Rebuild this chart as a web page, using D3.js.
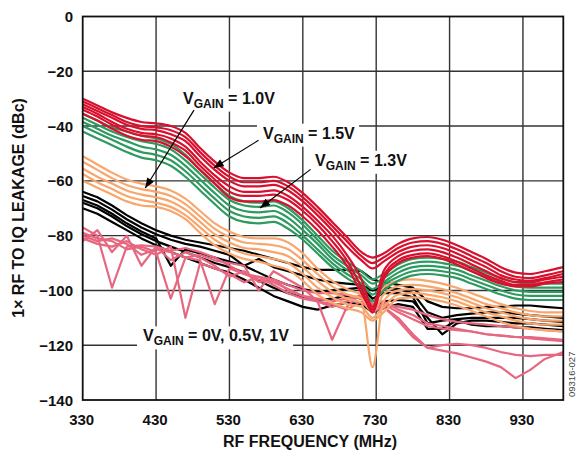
<!DOCTYPE html>
<html>
<head>
<meta charset="utf-8">
<script src="https://cdnjs.cloudflare.com/ajax/libs/d3/7.8.5/d3.min.js"></script>
<style>
  body { margin: 0; background: #fff; }
  svg text { font-family: Arial, "Liberation Sans", sans-serif; font-weight: bold; fill: #111; }
</style>
</head>
<body>
<script>
// RF frequency (MHz) sample points, shared by every trace
var freq = [330,350,370,390,410,430,450,470,490,510,530,550,570,590,610,630,650,670,690,710,725,740,760,780,800,820,840,860,880,900,920,940,960,985];

// VGAIN = 1.5V (red)
var vgain15 = [
  [-30,-32.5,-35,-37,-38.5,-39,-40,-42.5,-48,-53,-57,-59,-59,-58.5,-60.5,-64.5,-69.5,-75,-80.5,-86,-88,-86.5,-83,-81,-80.5,-81.5,-83.5,-86,-88.5,-91.5,-93.5,-94,-93,-91.5],
  [-31,-33.5,-36,-38.5,-40,-40.5,-41.5,-44,-49.5,-54.5,-58.5,-60.5,-60.5,-60,-62,-66,-71,-76.5,-82,-87.5,-90,-88,-84.5,-82.5,-82,-83,-85,-87.5,-90,-93,-95,-95.5,-94.5,-93],
  [-32,-34.5,-37,-39.5,-41,-41.5,-43,-45.5,-51,-56,-60,-62,-62,-61.5,-63.5,-67.5,-72.5,-78,-84,-89,-92,-89.5,-86,-84,-83.5,-84.5,-86.5,-89,-91.5,-94.5,-96,-96.5,-95.5,-94],
  [-33,-35.5,-38.5,-41,-42.5,-43,-44.5,-47.5,-53,-58,-62,-64,-64,-63.5,-65.5,-69.5,-74.5,-80,-87,-96,-106,-93,-87.5,-85.5,-85,-86,-88,-90.5,-93,-95.5,-97,-97,-96,-95],
  [-34,-36.5,-39.5,-42,-43.5,-44,-46,-49,-54.5,-59.5,-64,-65.5,-65.5,-65,-67,-71,-76,-82,-89,-99,-108,-95,-89,-87,-86.5,-87.5,-89.5,-92,-94.5,-96.5,-98,-98,-97,-96],
  [-35.5,-38,-41,-43.5,-45,-45.5,-47.5,-51,-56,-61,-66,-67.5,-67.5,-67,-69,-73,-78,-84,-91,-101,-107,-96,-90,-88,-87.5,-88.5,-90.5,-93,-95.5,-97.5,-98.5,-98.5,-97.5,-97]
];

// VGAIN = 1.3V (green)
var vgain13 = [
  [-35.5,-38,-40.5,-42,-43.5,-44.5,-46.5,-50.5,-56,-61,-65.5,-67.5,-68,-67.5,-70,-74.5,-80,-85.5,-89.5,-93,-96,-94,-90.5,-88.5,-88,-88.5,-89.5,-91.5,-93.5,-95.5,-97,-97.5,-97.5,-97.5],
  [-37,-39.5,-42,-44,-45.5,-46.5,-48.5,-52.5,-57.5,-62.5,-67,-69,-69.5,-69,-71.5,-76,-81.5,-87,-91,-94.5,-97.5,-95.5,-92,-90,-89.5,-90,-91,-93,-95,-97,-98.5,-99,-99,-99],
  [-38.5,-41,-43.5,-45.5,-47.5,-48.5,-50.5,-54.5,-59.5,-64.5,-69,-71,-71.5,-71,-73.5,-78,-83,-88.5,-92.5,-96,-99.5,-97,-93.5,-91.5,-91,-91.5,-92.5,-94.5,-96.5,-98.5,-100,-100.5,-100.5,-100.5],
  [-40,-42.5,-45,-47.5,-49.5,-50.5,-52.5,-56.5,-61.5,-66.5,-71,-73,-73.5,-73,-75.5,-80,-85,-90,-94,-97.5,-101.5,-98,-95,-93,-92.5,-93,-94,-96,-98,-100,-101.5,-102,-102,-102],
  [-42,-44.5,-47,-49.5,-51.5,-52.5,-54.5,-58.5,-63.5,-68.5,-73,-75,-75.5,-75,-77.5,-81.5,-86.5,-91.5,-95.5,-99,-104,-100,-96.5,-94.5,-94,-94.5,-95.5,-97.5,-99.5,-101.5,-103,-103.5,-103.5,-103.5]
];

// VGAIN = 1.0V (orange)
var vgain10 = [
  [-51,-54,-57,-59.5,-61,-62,-63.5,-66.5,-71,-75.5,-78.5,-80.5,-81,-81,-82.5,-86.5,-92,-96.5,-99.5,-101.5,-104,-99,-96.5,-96,-96.5,-97.5,-99,-101,-103,-105,-106.5,-107.5,-108,-108],
  [-53,-56,-59,-61.5,-63,-64,-65.5,-68.5,-73,-77.5,-80.5,-82.5,-83,-83.5,-85,-89,-94,-98.5,-101.5,-103,-108,-101.5,-98.5,-98,-98.5,-99.5,-101,-103,-105,-106.5,-108,-109,-109.5,-109.5],
  [-55.5,-58.5,-61,-63.5,-65,-66,-67.5,-70.5,-75,-79.5,-82.5,-84.5,-85,-86,-87.5,-91.5,-96.5,-100.5,-103,-104.5,-128,-104,-100,-99.5,-100,-101,-102.5,-104.5,-106.5,-108,-109.5,-110.5,-111,-111],
  [-57.5,-60.5,-63,-65.5,-67,-68,-69.5,-72.5,-77,-81.5,-84.5,-86.5,-87.5,-88.5,-90,-94,-99,-102.5,-105,-106,-110,-106,-101.5,-101,-101.5,-102.5,-104,-106,-108,-109.5,-111,-112,-112.5,-112.5],
  [-60,-62.5,-65,-67.5,-69,-69.5,-71,-74,-79,-83.5,-86.5,-88.5,-89.5,-91,-92.5,-96.5,-101.5,-104.5,-106.5,-108,-111,-108,-103,-102.5,-103,-104,-105.5,-107.5,-109.5,-111.5,-113,-114,-114.5,-115]
];

// low VGAIN traces (black)
var vgainLowBlack = [
  [-64,-66,-69,-72.5,-75.5,-78,-80,-81.5,-82.5,-83.5,-84.5,-85.5,-87,-88.5,-90,-91.5,-92.5,-92.5,-92.5,-93,-96,-97,-98,-99,-104,-106,-106.5,-106.5,-106,-106,-105.5,-105.5,-106,-106.5],
  [-65.5,-67.5,-70.5,-74,-77,-79.5,-81.5,-83,-84,-85.5,-87,-91,-88.5,-91.5,-93,-94.5,-96,-97,-97.5,-98,-100,-99,-99.5,-101,-108,-110,-109,-108.5,-108,-108,-108.5,-109,-109.5,-110],
  [-67,-69,-72,-75.5,-78.5,-81,-91,-85,-86.5,-88,-89.5,-91,-93.5,-96,-98,-99.5,-100.5,-100,-99.5,-99,-103,-101,-101,-102.5,-112,-111,-110.5,-110,-110,-110,-110,-110.5,-111,-111.5],
  [-68,-70,-73,-76.5,-79.5,-82,-84,-86,-88,-90,-91.5,-93.5,-96.5,-99,-101,-102.5,-103.5,-103,-102,-103,-106,-104,-103.5,-104,-110,-116,-112,-111,-111,-111.5,-112,-112,-112.5,-113],
  [-70,-72,-75,-78,-81,-83.5,-86,-88,-90,-92,-93.5,-96,-99,-102,-104,-106,-107,-105.5,-104.5,-105,-108,-106.5,-105,-106,-114,-114,-111,-112.5,-113,-113,-113.5,-113.5,-114,-114.5]
];

// low VGAIN traces (pink)
var vgainLowPink = [
  [-77,-80,-99,-84,-83.5,-84,-85.5,-84.5,-86,-88,-91,-94,-95,-96,-98,-100,-101,-101,-101.5,-103,-107,-105,-106,-107,-109,-110.5,-111.5,-112,-112.5,-113,-113.5,-114,-114.5,-115],
  [-79,-81,-82,-85,-84,-86,-103,-88,-89,-105,-92,-94,-96,-97,-99.5,-102,-104,-106,-104,-102,-106,-105,-108,-110.5,-113,-114,-114.5,-115,-116,-116.5,-117,-117.5,-118,-118.5],
  [-80,-82,-81,-83,-87,-85,-86,-88,-87,-89,-90,-91,-100,-93,-96,-99,-104,-118,-106,-101,-106,-106,-110,-116,-121,-120,-119.5,-120,-121,-122.5,-123.5,-124,-123.5,-123.5],
  [-81,-83,-84,-82,-85,-87,-84,-110,-90,-92,-94,-97,-95,-98,-101,-103,-104,-105,-107,-104,-108,-106,-111,-117,-121,-122,-123,-124.5,-126,-128,-132,-129,-125,-122.5],
  [-82,-78,-86,-80,-91,-84,-89,-86,-88,-91,-95,-93,-97,-96,-100,-102,-103,-104,-103,-102,-105,-104,-107,-109,-112,-113,-114,-115,-116,-116.5,-117,-117,-117.5,-118]
];

var xTicks = [330,430,530,630,730,830,930];
var yTicks = [0,-20,-40,-60,-80,-100,-120,-140];

var w = 577, h = 452;

var x = d3.scaleLinear().domain([330, 985]).range([82.7, 563.3]);
var y = d3.scaleLinear().domain([-140, 0]).range([400, 16.5]);

var svg = d3.select("body").append("svg")
  .attr("width", w)
  .attr("height", h);

//grid
svg.selectAll("line.vgrid")
  .data(xTicks.slice(1))
  .enter().append("line")
  .attr("x1", function(d) { return x(d); })
  .attr("x2", function(d) { return x(d); })
  .attr("y1", y(0)).attr("y2", y(-140))
  .style("stroke", "#333").style("stroke-width", 1.4);

svg.selectAll("line.hgrid")
  .data(yTicks.slice(1, -1))
  .enter().append("line")
  .attr("x1", x(330)).attr("x2", x(985))
  .attr("y1", function(d) { return y(d); })
  .attr("y2", function(d) { return y(d); })
  .style("stroke", "#333").style("stroke-width", 1.4);

var boxLayer = svg.append("g");
var dataLayer = svg.append("g");

svg.append("rect")
  .attr("x", x(330)).attr("y", y(0))
  .attr("width", x(985) - x(330)).attr("height", y(-140) - y(0))
  .style("fill", "none").style("stroke", "#111").style("stroke-width", 1.8);

//traces
function drawGroup(traces, colour, curve) {
  var line = d3.line()
    .x(function(d, i) { return x(freq[i]); })
    .y(function(d) { return y(d); })
    .curve(curve);
  dataLayer.append("g").selectAll("path")
    .data(traces)
    .enter().append("path")
    .attr("d", line)
    .style("fill", "none")
    .style("stroke", colour)
    .style("stroke-width", 2.2)
    .style("stroke-linejoin", "round");
}

drawGroup(vgainLowBlack, "#000000", d3.curveLinear);
drawGroup(vgainLowPink, "#e6677f", d3.curveLinear);
drawGroup(vgain10, "#f9a66c", d3.curveMonotoneX);
drawGroup(vgain13, "#2f9a60", d3.curveMonotoneX);
drawGroup(vgain15, "#d8102e", d3.curveMonotoneX);

//tick labels
svg.selectAll("text.ytick")
  .data(yTicks)
  .enter().append("text")
  .attr("x", 73)
  .attr("y", function(d) { return y(d) + 5.5; })
  .attr("text-anchor", "end")
  .style("font-size", "15px")
  .text(function(d) { return d === 0 ? "0" : "\u2212" + Math.abs(d); });

svg.selectAll("text.xtick")
  .data(xTicks)
  .enter().append("text")
  .attr("x", function(d) { return x(d) - 1; })
  .attr("y", 425)
  .attr("text-anchor", "middle")
  .style("font-size", "15px")
  .text(function(d) { return d; });

svg.append("text")
  .attr("x", 310).attr("y", 447)
  .attr("text-anchor", "middle")
  .style("font-size", "16px")
  .text("RF FREQUENCY (MHz)");

svg.append("text")
  .attr("transform", "translate(23.5,208) rotate(-90)")
  .attr("text-anchor", "middle")
  .style("font-size", "16px")
  .text("1\u00d7 RF TO IQ LEAKAGE (dBc)");

svg.append("text")
  .attr("transform", "translate(575,397) rotate(-90)")
  .style("font-size", "9.5px")
  .style("font-weight", "normal")
  .style("fill", "#444")
  .text("09316-027");

//annotations (positions in chart units)
var notes = [
  { rest: " = 1.0V", at: [466.7, -31.8], tail: [481.7, -34.2], tip: [415.3, -62.6] },
  { rest: " = 1.5V", at: [575.7, -44.6], tail: [569.6, -45.2], tip: [508.5, -55.3] },
  { rest: " = 1.3V", at: [646.6, -54.5], tail: [640.6, -55.8], tip: [571.7, -69.9] },
  { rest: " = 0V, 0.5V, 1V", at: [412.2, -118.6] }
];

svg.append("defs").append("marker")
  .attr("id", "head")
  .attr("viewBox", "0 0 10 8")
  .attr("refX", 10).attr("refY", 4)
  .attr("markerUnits", "userSpaceOnUse")
  .attr("markerWidth", 11).attr("markerHeight", 8)
  .attr("orient", "auto")
  .append("path")
  .attr("d", "M0,0 L10,4 L0,8 Z")
  .style("fill", "#000");

notes.forEach(function(n) {
  var t = svg.append("text")
    .attr("x", x(n.at[0]))
    .attr("y", y(n.at[1]))
    .style("font-size", "16px");
  t.append("tspan").text("V");
  t.append("tspan").attr("dy", 4).style("font-size", "12px").text("GAIN");
  t.append("tspan").attr("dy", -4).text(n.rest);

  var b = t.node().getBBox();
  boxLayer.append("rect")
    .attr("x", b.x - 6).attr("y", b.y - 1)
    .attr("width", b.width + 10).attr("height", b.height + 2)
    .style("fill", "#fff");

  if (n.tip) {
    svg.append("line")
      .attr("x1", x(n.tail[0])).attr("y1", y(n.tail[1]))
      .attr("x2", x(n.tip[0])).attr("y2", y(n.tip[1]))
      .style("stroke", "#000").style("stroke-width", 1.2)
      .attr("marker-end", "url(#head)");
  }
});
</script>
</body>
</html>
